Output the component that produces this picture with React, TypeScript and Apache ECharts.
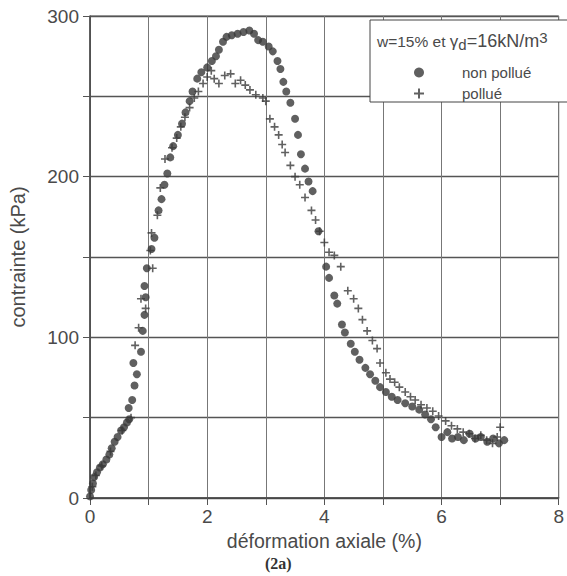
import React, { useEffect, useRef } from "react";
import * as echarts from "echarts";

const xTicks = [0, 2, 4, 6, 8];
const yTicks = [0, 100, 200, 300];

const nonPollue: number[][] = [
  [0.0, 1], [0.02, 5], [0.05, 9], [0.07, 13], [0.12, 16], [0.17, 19], [0.22, 21], [0.28, 24], [0.33, 27],
  [0.37, 31], [0.42, 35], [0.47, 38], [0.53, 42], [0.58, 44], [0.63, 47], [0.67, 49], [0.66, 56],
  [0.72, 61], [0.76, 70], [0.8, 77], [0.74, 84], [0.87, 91], [0.9, 104], [0.93, 114], [0.95, 125],
  [0.93, 132], [0.97, 143], [1.05, 155], [1.1, 162], [1.17, 179], [1.22, 186], [1.27, 195], [1.32, 202],
  [1.37, 212], [1.42, 219], [1.5, 226], [1.57, 233], [1.63, 240], [1.7, 247], [1.75, 253], [1.83, 261],
  [1.9, 265], [2.0, 268], [2.08, 272], [2.15, 275], [2.2, 279], [2.27, 284], [2.33, 287], [2.42, 288],
  [2.52, 289], [2.62, 290], [2.72, 291], [2.8, 289], [2.87, 285], [2.95, 284], [3.05, 281], [3.12, 278],
  [3.2, 272], [3.25, 267], [3.3, 259], [3.35, 253], [3.42, 246], [3.5, 236], [3.55, 226], [3.6, 214],
  [3.67, 205], [3.73, 197], [3.8, 191], [3.9, 166], [4.03, 144], [4.08, 137], [4.17, 126], [4.22, 121],
  [4.3, 108], [4.35, 103], [4.45, 96], [4.52, 91], [4.6, 86], [4.7, 81], [4.78, 77], [4.87, 73],
  [4.95, 69], [5.05, 66], [5.15, 63], [5.25, 61], [5.38, 59], [5.5, 57], [5.62, 55], [5.72, 52],
  [5.82, 49], [5.9, 44], [6.0, 38], [6.1, 41], [6.18, 37], [6.28, 38], [6.38, 36], [6.48, 40],
  [6.58, 37], [6.67, 38], [6.78, 35], [6.88, 37], [6.98, 34], [7.07, 36],
];

const pollue: number[][] = [
  [0.04, 7], [0.1, 14], [0.2, 20], [0.35, 29], [0.55, 42], [0.7, 50], [0.77, 95], [0.83, 106],
  [0.87, 124], [0.95, 118], [1.03, 154], [1.05, 165], [1.07, 143], [1.15, 176], [1.2, 193], [1.28, 211],
  [1.4, 218], [1.48, 224], [1.55, 231], [1.62, 237], [1.7, 243], [1.78, 249], [1.85, 253], [1.93, 258],
  [2.0, 262], [2.07, 266], [2.12, 261], [2.2, 258], [2.3, 263], [2.4, 264], [2.48, 258], [2.57, 260],
  [2.65, 257], [2.73, 254], [2.83, 251], [2.95, 249], [3.0, 247], [3.07, 236], [3.15, 231], [3.22, 226],
  [3.28, 220], [3.33, 215], [3.42, 207], [3.5, 200], [3.58, 195], [3.67, 187], [3.78, 179], [3.85, 173],
  [3.92, 166], [4.0, 159], [4.08, 153], [4.17, 151], [4.28, 144], [4.4, 129], [4.5, 124], [4.58, 118],
  [4.65, 111], [4.73, 104], [4.82, 98], [4.9, 93], [4.95, 84], [5.05, 78], [5.12, 74], [5.2, 72],
  [5.28, 69], [5.38, 66], [5.47, 63], [5.55, 61], [5.65, 58], [5.75, 56], [5.85, 54], [5.95, 51],
  [6.07, 48], [6.17, 45], [6.27, 43], [6.37, 41], [6.47, 40], [6.57, 37], [6.67, 39], [6.77, 36],
  [6.87, 34], [6.95, 38], [7.0, 44],
];

const PLUS = "path://M4,0H6V4H10V6H6V10H4V6H0V4H4Z";
const FONT = "Liberation Sans, Arial, sans-serif";
const TXT = "#4a4a4a";

export default function App() {
  const ref = useRef<HTMLDivElement>(null);
  useEffect(() => {
    if (!ref.current) return;
    const chart = echarts.init(ref.current, undefined, { renderer: "svg" });
    chart.setOption({
      animation: false,
      backgroundColor: "#ffffff",
      grid: { left: 83, top: 16, width: 479, height: 482, show: true, borderColor: "#555", borderWidth: 1 },
      xAxis: {
        type: "value", min: 0, max: 8, interval: 1,
        name: "déformation axiale (%)", nameLocation: "middle", nameGap: 32,
        nameTextStyle: { fontFamily: FONT, fontSize: 19.5, color: TXT },
        axisLine: { show: true, lineStyle: { color: "#444", width: 1.5 } },
        axisTick: { show: true, length: 7, inside: false, lineStyle: { color: "#555" } },
        axisLabel: {
          fontFamily: FONT, fontSize: 19, color: TXT, margin: 9,
          formatter: (v: number) => (xTicks.includes(v) ? String(v) : ""),
        },
        splitLine: { show: true, lineStyle: { color: "#777", width: 1 } },
      },
      yAxis: {
        type: "value", min: 0, max: 300, interval: 50,
        name: "contrainte (kPa)", nameLocation: "middle", nameGap: 62,
        nameTextStyle: { fontFamily: FONT, fontSize: 20, color: TXT },
        axisLine: { show: true, lineStyle: { color: "#444", width: 1.5 } },
        axisTick: { show: true, length: 7, inside: false, lineStyle: { color: "#555" } },
        axisLabel: {
          fontFamily: FONT, fontSize: 19, color: TXT, margin: 11,
          formatter: (v: number) => (yTicks.includes(v) ? String(v) : ""),
        },
        splitLine: { show: true, lineStyle: { color: "#555", width: 1.3 } },
      },
      legend: {
        orient: "vertical", left: 409, top: 60, itemWidth: 10, itemHeight: 10, itemGap: 6, z: 20,
        textStyle: { fontFamily: FONT, fontSize: 15, color: TXT, padding: [0, 0, 0, 33] },
        data: ["non pollué", "pollué"],
      },
      graphic: [
        { type: "rect", z: 10, shape: { x: 370, y: 20, width: 205, height: 82 }, style: { fill: "#fff", stroke: "#444", lineWidth: 1 } },
        {
          type: "text", z: 21, x: 377, y: 30,
          style: {
            text: "{a|w=15% et }{g|γ}{sub|d}{b|=16kN/m}{sup|3}",
            fill: TXT,
            rich: {
              a: { fontFamily: FONT, fontSize: 15.5, lineHeight: 22, fill: TXT },
              g: { fontFamily: FONT, fontSize: 17, lineHeight: 22, fill: TXT },
              b: { fontFamily: FONT, fontSize: 18, lineHeight: 22, fill: TXT },
              sub: { fontFamily: FONT, fontSize: 15, lineHeight: 13, verticalAlign: "bottom", fill: TXT },
              sup: { fontFamily: FONT, fontSize: 15, lineHeight: 13, verticalAlign: "top", fill: TXT },
            },
          },
        },
        {
          type: "text", z: 21, left: 265, top: 555,
          style: { text: "(2a)", font: "bold 16px 'Liberation Serif', 'Times New Roman', serif", fill: "#333" },
        },
      ],
      series: [
        {
          name: "non pollué", type: "scatter", data: nonPollue, symbol: "circle", symbolSize: 8,
          itemStyle: { color: "#383838" }, z: 3,
        },
        {
          name: "pollué", type: "scatter", data: pollue, symbol: PLUS, symbolSize: 8,
          itemStyle: { color: "#3a3a3a" }, z: 4,
        },
      ],
    });
    return () => chart.dispose();
  }, []);
  return <div ref={ref} style={{ position: "fixed", left: 0, top: 0, width: 567, height: 576 }} />;
}
